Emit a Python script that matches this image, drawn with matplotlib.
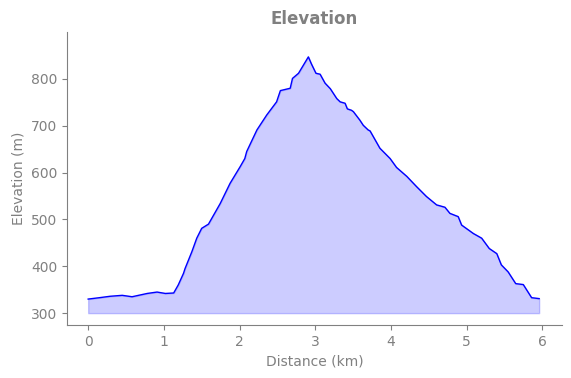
import numpy as np
import matplotlib
matplotlib.use("Agg")
import matplotlib.pyplot as plt

# -----------------------------
# Data
# -----------------------------
distance_km = [
    0.00, 0.15, 0.29, 0.45, 0.58, 0.78, 0.91, 1.02, 1.13, 1.19,
    1.26, 1.28, 1.37, 1.435, 1.50, 1.59, 1.745, 1.875, 2.01, 2.07,
    2.095, 2.23, 2.36, 2.49, 2.54, 2.67, 2.70, 2.78, 2.91, 2.95,
    3.01, 3.065, 3.13, 3.20, 3.285, 3.33, 3.395, 3.425, 3.48, 3.505,
    3.59, 3.635, 3.70, 3.725, 3.855, 3.99, 4.075, 4.21, 4.34, 4.47,
    4.605, 4.65, 4.715, 4.78, 4.89, 4.935, 5.09, 5.20, 5.30, 5.40,
    5.46, 5.55, 5.65, 5.75, 5.86, 5.96,
]
elevation_m = [
    330, 333, 336, 338, 335, 342, 345, 342, 343, 360,
    385, 395, 431, 460, 481, 490, 534, 577, 613, 630,
    645, 691, 723, 751, 775, 780, 801, 812, 847, 832,
    812, 810, 791, 779, 758, 751, 748, 736, 733, 730,
    712, 701, 691, 689, 652, 630, 611, 592, 570, 549,
    531, 529, 526, 513, 506, 488, 470, 460, 438, 427,
    403, 388, 363, 361, 333, 331,
]
base_m = 300

x = np.array(distance_km)
y = np.array(elevation_m)

fig = plt.figure(figsize=(5.71, 3.78), dpi=100)
ax = fig.add_axes([0.1173, 0.140, 0.8667, 0.775])

ax.fill_between(x, y, base_m, color="blue", alpha=0.2)
ax.plot(x, y, color="blue", linewidth=1)

ax.set_ylim(274.5, 899.8)
ax.set_xlim(-0.28, 6.26)

grey = "grey"
ax.set_title("Elevation", color=grey, fontweight="bold", fontsize=12)
ax.set_xlabel("Distance (km)", color=grey)
ax.set_ylabel("Elevation (m)", color=grey)
ax.tick_params(colors=grey)
for side in ["top", "right"]:
    ax.spines[side].set_visible(False)
for side in ["left", "bottom"]:
    ax.spines[side].set_color(grey)

fig.savefig("out.png", dpi=100)
